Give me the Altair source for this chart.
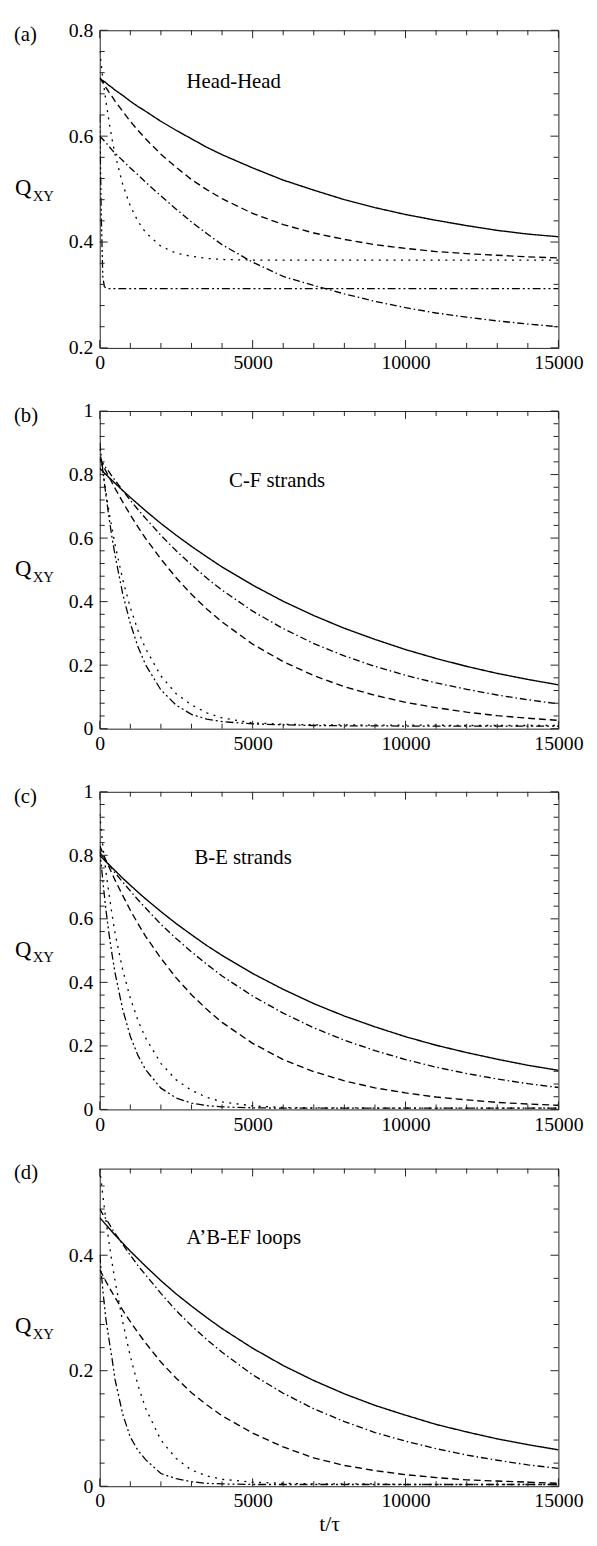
import altair as alt
import pandas as pd

FONT = "Liberation Serif"
W, H = 465, 322

T = [0, 50, 100, 150, 200, 300, 400, 500, 750, 1000, 1250, 1500, 2000, 2500, 3000,
     3500, 4000, 5000, 6000, 7000, 8000, 9000, 10000, 11000, 12000, 13000, 14000, 15000]

SERIES = ["solid", "dashed", "dashdot", "dotted", "dashdotdot"]

# per-panel line styles (dash pattern, width) in SERIES order
DASH_A = [[1, 0], [7, 4], [7, 3, 1.5, 3], [2, 5.5], [8, 3, 2, 3, 2, 3]]
WIDTH_A = [1.4, 1.3, 1.2, 2.2, 2.0]
DASH_B = [[1, 0], [7, 4], [7, 3, 1.5, 3], [1.2, 2.4], [7, 2.5, 1.2, 2.5, 1.2, 2.5]]
WIDTH_B = [1.4, 1.3, 1.1, 1.2, 1.2]
DASH_C = [[1, 0], [6, 3.5], [7, 3, 1.5, 3], [2, 4], [9, 3, 1.8, 3, 1.8, 3]]
WIDTH_C = [1.4, 1.2, 1.0, 1.9, 1.9]
DASH_D = [[1, 0], [6, 4], [7, 3, 1.5, 3], [2, 5], [6, 2.5, 1, 2.5, 1, 2.5]]
WIDTH_D = [1.4, 1.2, 1.0, 2.0, 1.0]

# ---- panel (a) Head-Head ----
A_SOLID = [0.710, 0.707, 0.705, 0.703, 0.701, 0.696, 0.692, 0.687, 0.677, 0.666, 0.656, 0.647, 0.628, 0.611,
           0.595, 0.579, 0.565, 0.540, 0.517, 0.498, 0.480, 0.465, 0.452, 0.441, 0.431, 0.422, 0.415, 0.410]
A_DASHED = [0.710, 0.706, 0.701, 0.697, 0.692, 0.683, 0.675, 0.666, 0.647, 0.628, 0.611, 0.595, 0.566, 0.541,
            0.518, 0.499, 0.482, 0.454, 0.433, 0.417, 0.405, 0.395, 0.388, 0.382, 0.378, 0.375, 0.372, 0.370]
A_DASHDOT = [0.600, 0.597, 0.594, 0.591, 0.588, 0.581, 0.574, 0.568, 0.554, 0.540, 0.527, 0.513, 0.487, 0.462,
             0.438, 0.416, 0.395, 0.362, 0.335, 0.318, 0.302, 0.288, 0.276, 0.266, 0.258, 0.251, 0.245, 0.240]
A_DOTTED = [0.760, 0.735, 0.710, 0.688, 0.667, 0.629, 0.595, 0.566, 0.509, 0.468, 0.439, 0.418, 0.392, 0.379,
            0.373, 0.369, 0.367, 0.366, 0.366, 0.366, 0.366, 0.366, 0.366, 0.366, 0.366, 0.366, 0.366, 0.366]
A_DDD = [0.640, 0.450, 0.335, 0.316, 0.313, 0.312, 0.312, 0.312, 0.312, 0.312, 0.312, 0.312, 0.312, 0.312,
         0.312, 0.312, 0.312, 0.312, 0.312, 0.312, 0.312, 0.312, 0.312, 0.312, 0.312, 0.312, 0.312, 0.312]

# ---- panel (b) C-F strands ----
B_SOLID = [0.820, 0.815, 0.810, 0.805, 0.801, 0.791, 0.782, 0.773, 0.750, 0.728, 0.707, 0.686, 0.646, 0.609,
           0.574, 0.541, 0.509, 0.452, 0.401, 0.356, 0.316, 0.281, 0.249, 0.221, 0.196, 0.174, 0.155, 0.138]
B_DASHED = [0.850, 0.840, 0.830, 0.821, 0.811, 0.793, 0.775, 0.757, 0.714, 0.673, 0.635, 0.599, 0.534, 0.475,
            0.423, 0.377, 0.336, 0.266, 0.211, 0.167, 0.132, 0.105, 0.083, 0.066, 0.052, 0.041, 0.033, 0.026]
B_DASHDOT = [0.850, 0.843, 0.836, 0.829, 0.822, 0.809, 0.795, 0.782, 0.750, 0.719, 0.690, 0.662, 0.609, 0.560,
             0.516, 0.474, 0.436, 0.370, 0.315, 0.268, 0.229, 0.196, 0.168, 0.144, 0.124, 0.106, 0.091, 0.078]
B_DOTTED = [0.880, 0.844, 0.810, 0.777, 0.745, 0.685, 0.631, 0.580, 0.470, 0.381, 0.309, 0.252, 0.166, 0.110,
            0.075, 0.050, 0.034, 0.018, 0.014, 0.012, 0.012, 0.011, 0.011, 0.011, 0.010, 0.010, 0.010, 0.010]
B_DDD = [0.900, 0.856, 0.814, 0.775, 0.737, 0.667, 0.603, 0.546, 0.425, 0.331, 0.258, 0.201, 0.122, 0.074,
         0.045, 0.030, 0.022, 0.015, 0.012, 0.010, 0.009, 0.009, 0.008, 0.008, 0.008, 0.008, 0.008, 0.008]

# ---- panel (c) B-E strands ----
C_SOLID = [0.800, 0.795, 0.790, 0.785, 0.780, 0.771, 0.761, 0.752, 0.728, 0.706, 0.684, 0.663, 0.623, 0.585,
           0.550, 0.516, 0.485, 0.428, 0.378, 0.333, 0.294, 0.260, 0.229, 0.202, 0.179, 0.158, 0.139, 0.123]
C_DASHED = [0.830, 0.819, 0.807, 0.796, 0.785, 0.764, 0.743, 0.722, 0.674, 0.627, 0.585, 0.545, 0.476, 0.414,
            0.361, 0.315, 0.274, 0.208, 0.157, 0.119, 0.090, 0.068, 0.052, 0.039, 0.030, 0.022, 0.017, 0.013]
C_DASHDOT = [0.810, 0.803, 0.797, 0.790, 0.784, 0.771, 0.758, 0.745, 0.716, 0.688, 0.660, 0.634, 0.583, 0.538,
             0.496, 0.457, 0.420, 0.357, 0.303, 0.257, 0.218, 0.185, 0.157, 0.133, 0.113, 0.096, 0.081, 0.069]
C_DOTTED = [0.930, 0.880, 0.830, 0.790, 0.750, 0.680, 0.615, 0.555, 0.440, 0.350, 0.280, 0.225, 0.145, 0.093,
            0.060, 0.038, 0.024, 0.011, 0.006, 0.005, 0.005, 0.004, 0.004, 0.004, 0.004, 0.004, 0.004, 0.004]
C_DDD = [0.820, 0.770, 0.720, 0.675, 0.630, 0.555, 0.490, 0.430, 0.315, 0.230, 0.170, 0.125, 0.067, 0.036,
         0.020, 0.012, 0.008, 0.005, 0.004, 0.004, 0.004, 0.004, 0.004, 0.004, 0.004, 0.004, 0.004, 0.004]

# ---- panel (d) A'B-EF loops ----
D_SOLID = [0.465, 0.462, 0.459, 0.456, 0.453, 0.447, 0.441, 0.435, 0.421, 0.407, 0.394, 0.381, 0.356, 0.333,
           0.312, 0.292, 0.273, 0.239, 0.209, 0.183, 0.160, 0.140, 0.123, 0.107, 0.094, 0.082, 0.072, 0.063]
D_DASHED = [0.375, 0.370, 0.365, 0.360, 0.355, 0.345, 0.336, 0.327, 0.305, 0.285, 0.266, 0.248, 0.215, 0.187,
            0.162, 0.141, 0.122, 0.092, 0.068, 0.049, 0.036, 0.027, 0.020, 0.015, 0.011, 0.009, 0.007, 0.005]
D_DASHDOT = [0.480, 0.476, 0.471, 0.467, 0.463, 0.455, 0.446, 0.438, 0.419, 0.400, 0.382, 0.366, 0.334, 0.304,
             0.278, 0.254, 0.232, 0.193, 0.161, 0.134, 0.112, 0.093, 0.078, 0.065, 0.054, 0.045, 0.037, 0.031]
D_DOTTED = [0.550, 0.527, 0.504, 0.483, 0.462, 0.424, 0.388, 0.356, 0.285, 0.225, 0.175, 0.135, 0.080, 0.048,
            0.028, 0.018, 0.012, 0.007, 0.005, 0.004, 0.004, 0.004, 0.003, 0.003, 0.003, 0.003, 0.003, 0.003]
D_DDD = [0.400, 0.370, 0.340, 0.315, 0.290, 0.255, 0.222, 0.185, 0.125, 0.085, 0.062, 0.046, 0.022, 0.013,
         0.008, 0.005, 0.004, 0.003, 0.003, 0.003, 0.003, 0.003, 0.003, 0.003, 0.003, 0.003, 0.003, 0.003]

# axis ticks and labels
X_LABELS = [0, 5000, 10000, 15000]
X_MINOR = [1000, 2000, 3000, 4000, 6000, 7000, 8000, 9000, 11000, 12000, 13000, 14000]
Y_LABELS_A = [0.2, 0.4, 0.6, 0.8]
Y_MINOR_A = [0.24, 0.28, 0.32, 0.36, 0.44, 0.48, 0.52, 0.56, 0.64, 0.68, 0.72, 0.76]
Y_LABELS_BC = [0, 0.2, 0.4, 0.6, 0.8, 1]
Y_MINOR_BC = [0.04, 0.08, 0.12, 0.16, 0.24, 0.28, 0.32, 0.36, 0.44, 0.48, 0.52, 0.56,
              0.64, 0.68, 0.72, 0.76, 0.84, 0.88, 0.92, 0.96]
Y_LABELS_D = [0, 0.2, 0.4]
Y_MINOR_D = [0.04, 0.08, 0.12, 0.16, 0.24, 0.28, 0.32, 0.36, 0.44, 0.48, 0.52]

MAJOR_LEN, MINOR_LEN = 8, 5
INK = "#222222"


def panel(tag, note, note_t, note_q, ymin, ymax, y_major, y_minor, lists, dashes, widths, bottom=False):
    rows = []
    for name, vals in zip(SERIES, lists):
        for t, v in zip(T, vals):
            rows.append({"t": t, "q": v, "s": name})
    df = pd.DataFrame(rows)
    xs = alt.Scale(domain=[0, 15000], nice=False, zero=False)
    ys = alt.Scale(domain=[ymin, ymax], nice=False, zero=False)
    xkw = dict(values=X_LABELS, format="d", ticks=False, tickSize=0, domain=False, grid=False,
               labelFont=FONT, labelFontSize=20, labelPadding=5, labelColor="black",
               labelFlush=False, labelOverlap=False)
    if bottom:
        xkw.update(title="t/τ", titleFont=FONT, titleFontSize=22, titleFontWeight="normal",
                   titleColor="black", titlePadding=3)
    else:
        xkw.update(title="")
    ykw = dict(values=y_major, format="~g", ticks=False, tickSize=0, domain=False, grid=False,
               labelFont=FONT, labelFontSize=20, labelPadding=7, labelColor="black",
               labelFlush=False, labelOverlap=False, title="")
    xa = alt.Axis(**xkw)
    ya = alt.Axis(**ykw)

    lines = alt.Chart(df).mark_line(clip=True).encode(
        x=alt.X("t:Q", scale=xs, axis=xa),
        y=alt.Y("q:Q", scale=ys, axis=ya),
        strokeDash=alt.StrokeDash("s:N", scale=alt.Scale(domain=SERIES, range=dashes), legend=None),
        strokeWidth=alt.StrokeWidth("s:N", scale=alt.Scale(domain=SERIES, range=widths), legend=None),
        color=alt.value("black"),
        detail="s:N",
        order=alt.Order("t:Q"),
    )

    ticks = []
    for vals, ln in ((X_LABELS, MAJOR_LEN), (X_MINOR, MINOR_LEN)):
        d = pd.DataFrame({"t": vals})
        base = alt.Chart(d).mark_rule(color=INK, strokeWidth=1)
        ticks.append(base.encode(x=alt.X("t:Q", scale=xs, axis=xa), y=alt.value(H), y2=alt.value(H - ln)))
        ticks.append(base.encode(x=alt.X("t:Q", scale=xs, axis=xa), y=alt.value(0), y2=alt.value(ln)))
    for vals, ln in ((y_major, MAJOR_LEN), (y_minor, MINOR_LEN)):
        d = pd.DataFrame({"q": vals})
        base = alt.Chart(d).mark_rule(color=INK, strokeWidth=1)
        ticks.append(base.encode(y=alt.Y("q:Q", scale=ys, axis=ya), x=alt.value(0), x2=alt.value(ln)))
        ticks.append(base.encode(y=alt.Y("q:Q", scale=ys, axis=ya), x=alt.value(W), x2=alt.value(W - ln)))

    note_layer = alt.Chart(pd.DataFrame({"t": [note_t], "q": [note_q], "txt": [note]})).mark_text(
        align="left", baseline="middle", font=FONT, fontSize=21, color="black"
    ).encode(x=alt.X("t:Q", scale=xs, axis=xa), y=alt.Y("q:Q", scale=ys, axis=ya), text="txt:N")
    tag_layer = alt.Chart(pd.DataFrame({"txt": [tag]})).mark_text(
        align="left", baseline="middle", font=FONT, fontSize=21, color="black"
    ).encode(x=alt.value(-87), y=alt.value(5), text="txt:N")
    q_layer = alt.Chart(pd.DataFrame({"txt": ["Q"]})).mark_text(
        align="left", baseline="middle", font=FONT, fontSize=23, color="black"
    ).encode(x=alt.value(-86), y=alt.value(H / 2 - 1), text="txt:N")
    sub_layer = alt.Chart(pd.DataFrame({"txt": ["XY"]})).mark_text(
        align="left", baseline="middle", font=FONT, fontSize=15, color="black"
    ).encode(x=alt.value(-68), y=alt.value(H / 2 + 7), text="txt:N")
    return alt.layer(lines, *ticks, note_layer, tag_layer, q_layer, sub_layer).properties(width=W, height=H)


pa = panel("(a)", "Head-Head", 2840, 0.703, 0.2, 0.8, Y_LABELS_A, Y_MINOR_A,
           [A_SOLID, A_DASHED, A_DASHDOT, A_DOTTED, A_DDD], DASH_A, WIDTH_A)
pb = panel("(b)", "C-F strands", 4230, 0.78, 0, 1, Y_LABELS_BC, Y_MINOR_BC,
           [B_SOLID, B_DASHED, B_DASHDOT, B_DOTTED, B_DDD], DASH_B, WIDTH_B)
pc = panel("(c)", "B-E strands", 3100, 0.79, 0, 1, Y_LABELS_BC, Y_MINOR_BC,
           [C_SOLID, C_DASHED, C_DASHDOT, C_DOTTED, C_DDD], DASH_C, WIDTH_C)
pd_ = panel("(d)", "A\u2019B-EF loops", 2840, 0.43, 0, 0.55, Y_LABELS_D, Y_MINOR_D,
            [D_SOLID, D_DASHED, D_DASHDOT, D_DOTTED, D_DDD], DASH_D, WIDTH_D, bottom=True)

chart = alt.vconcat(pa, pb, pc, pd_, spacing=27).properties(
    padding={"left": 5, "top": 1, "right": 5, "bottom": 0},
    background="white",
).configure_view(stroke=INK, strokeWidth=1).configure_axis(labelFont=FONT, titleFont=FONT)

chart.save("out.html", embed_options={"renderer": "svg", "actions": False})
